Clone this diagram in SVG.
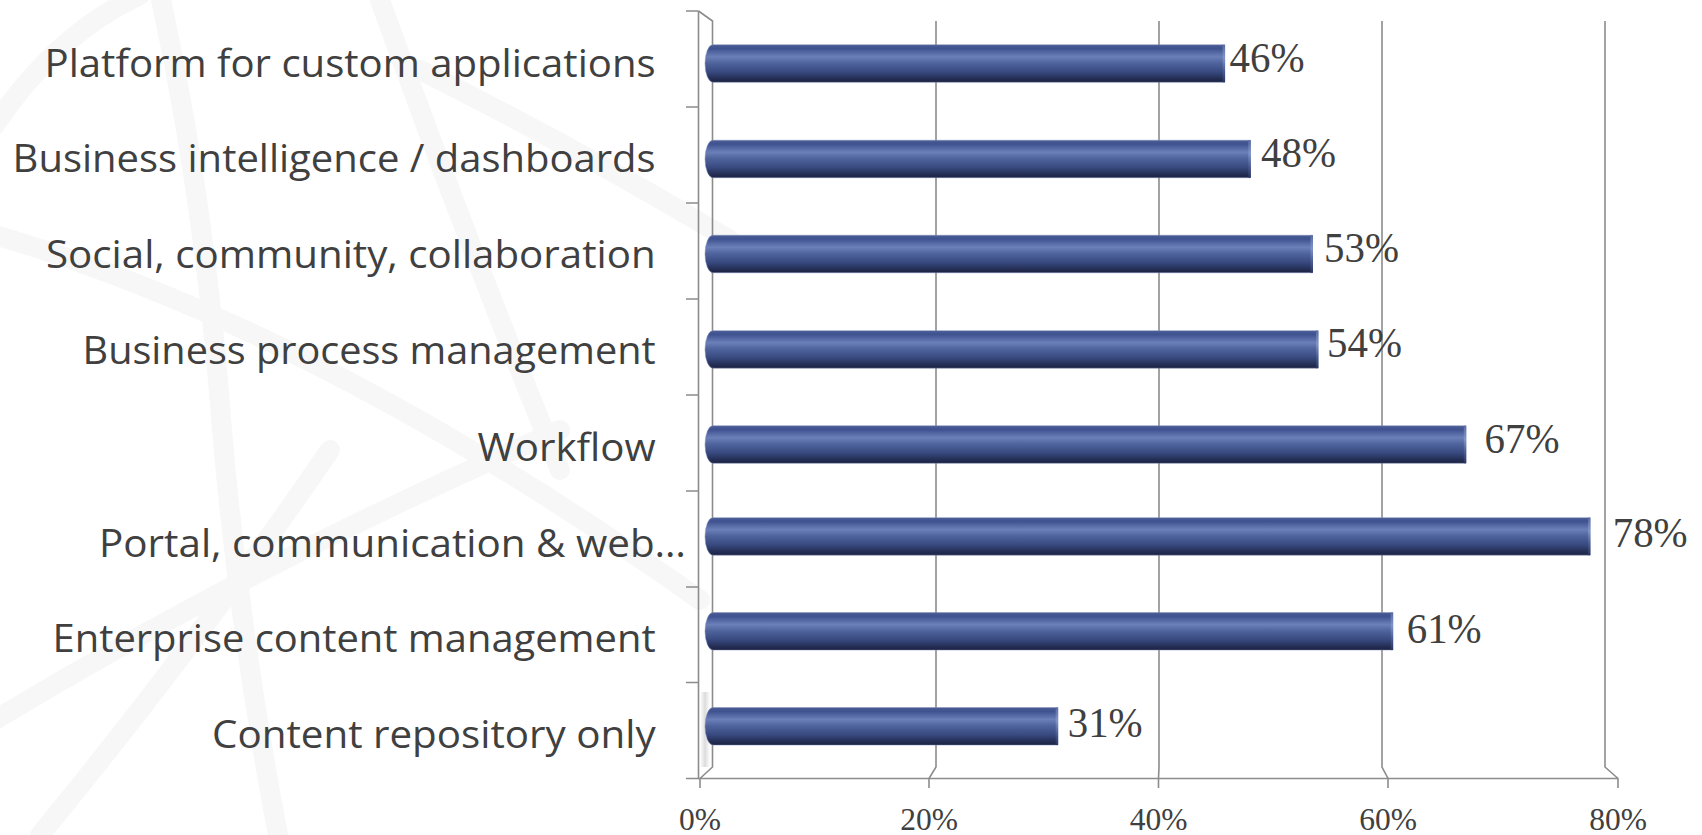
<svg xmlns="http://www.w3.org/2000/svg" width="1702" height="835" viewBox="0 0 1702 835">
<defs>
<style>
.cat{font-family:"Open Sans","Noto Sans","Liberation Sans",sans-serif;font-size:38px;fill:#404040;text-anchor:end}
.val{font-family:"Liberation Serif","DejaVu Serif",serif;font-size:42px;fill:#404040}
.ax{font-family:"Liberation Serif","DejaVu Serif",serif;font-size:31.5px;fill:#404040;text-anchor:middle}
.grid{stroke:#8c8c8c;stroke-width:1.6;fill:none}
.wm{stroke:#f7f7f7;stroke-width:20;fill:none;stroke-linecap:round}
.bar{fill:url(#barGrad);stroke:#8190bd;stroke-width:0.8;stroke-opacity:0.6}
.cap{fill:url(#capGrad)}
</style>
<linearGradient id="barGrad" x1="0" y1="0" x2="0" y2="1">
<stop offset="0" stop-color="#4b5d95"/>
<stop offset="0.1" stop-color="#3f5290"/>
<stop offset="0.32" stop-color="#6b80b9"/>
<stop offset="0.48" stop-color="#50649e"/>
<stop offset="0.72" stop-color="#384a80"/>
<stop offset="0.9" stop-color="#252f56"/>
<stop offset="1" stop-color="#1b2141"/>
</linearGradient>
<linearGradient id="capGrad" x1="0" y1="0" x2="0" y2="1">
<stop offset="0" stop-color="#5a6ca3"/>
<stop offset="0.35" stop-color="#8094c8"/>
<stop offset="0.7" stop-color="#4a5c92"/>
<stop offset="1" stop-color="#2a3460"/>
</linearGradient>
<linearGradient id="shadowGrad" x1="0" y1="0" x2="1" y2="0">
<stop offset="0" stop-color="#9a9a9a" stop-opacity="0"/>
<stop offset="0.5" stop-color="#9a9a9a" stop-opacity="0.35"/>
<stop offset="1" stop-color="#9a9a9a" stop-opacity="0"/>
</linearGradient>
</defs>
<rect x="0" y="0" width="1702" height="835" fill="#ffffff"/>

<g id="watermark">
<path class="wm" d="M 160,-5 Q 205,200 222,430 Q 240,640 280,845"/>
<path class="wm" d="M -5,125 Q 55,35 140,-5"/>
<path class="wm" d="M 420,70 Q 580,150 730,240"/>
<path class="wm" d="M -5,235 Q 320,330 700,600"/>
<path class="wm" d="M -5,720 Q 260,560 560,430"/>
<path class="wm" d="M 330,450 Q 200,640 40,835"/>
<path class="wm" d="M 380,0 Q 470,250 560,470"/>
</g>

<g id="axes">
<path class="grid" d="M 698.5,11 V 778.5 H 1618"/>
<path class="grid" d="M 698.5,11 L 712.5,21 V 767 L 700,778.5"/>
<path class="grid" d="M 936,21 V 767 L 929,778.5 V 788"/>
<path class="grid" d="M 1159,21 V 767 L 1158.5,778.5 V 788"/>
<path class="grid" d="M 1382,21 V 767 L 1388,778.5 V 788"/>
<path class="grid" d="M 1605,21 V 767 L 1618,778.5 V 788"/>
<path class="grid" d="M 700,778.5 V 788"/>
<path class="grid" d="M 686,11 H 698.5 M 686,107 H 698.5 M 686,203 H 698.5 M 686,299 H 698.5 M 686,395 H 698.5 M 686,491 H 698.5 M 686,587 H 698.5 M 686,682.5 H 698.5 M 686,778.5 H 698.5"/>
<rect x="700" y="692" width="10" height="75" fill="url(#shadowGrad)"/>
</g>

<g id="bar1"><path class="bar" d="M 713,44.75 H 1224.6 V 82.25 H 713 A 8,18.75 0 0 1 713,44.75 Z"/><rect class="cap" x="1222.6" y="44.75" width="2.5" height="37.5"/><text class="cat" x="655.6" y="76.7" textLength="611" lengthAdjust="spacingAndGlyphs">Platform for custom applications</text><text class="val" x="1229.6" y="72" textLength="75" lengthAdjust="spacingAndGlyphs">46%</text></g>
<g id="bar2"><path class="bar" d="M 713,140.25 H 1250.4 V 177.75 H 713 A 8,18.75 0 0 1 713,140.25 Z"/><rect class="cap" x="1248.4" y="140.25" width="2.5" height="37.5"/><text class="cat" x="655.6" y="172" textLength="643" lengthAdjust="spacingAndGlyphs">Business intelligence / dashboards</text><text class="val" x="1261" y="167" textLength="75" lengthAdjust="spacingAndGlyphs">48%</text></g>
<g id="bar3"><path class="bar" d="M 713,235.25 H 1312.5 V 272.75 H 713 A 8,18.75 0 0 1 713,235.25 Z"/><rect class="cap" x="1310.5" y="235.25" width="2.5" height="37.5"/><text class="cat" x="655.6" y="268" textLength="609.6" lengthAdjust="spacingAndGlyphs">Social, community, collaboration</text><text class="val" x="1324" y="262.3" textLength="75" lengthAdjust="spacingAndGlyphs">53%</text></g>
<g id="bar4"><path class="bar" d="M 713,330.65 H 1318 V 368.15 H 713 A 8,18.75 0 0 1 713,330.65 Z"/><rect class="cap" x="1316" y="330.65" width="2.5" height="37.5"/><text class="cat" x="655.6" y="363.5" textLength="573" lengthAdjust="spacingAndGlyphs">Business process management</text><text class="val" x="1327" y="357.2" textLength="75" lengthAdjust="spacingAndGlyphs">54%</text></g>
<g id="bar5"><path class="bar" d="M 713,425.75 H 1465.8 V 463.25 H 713 A 8,18.75 0 0 1 713,425.75 Z"/><rect class="cap" x="1463.8" y="425.75" width="2.5" height="37.5"/><text class="cat" x="655.6" y="460.7" textLength="178" lengthAdjust="spacingAndGlyphs">Workflow</text><text class="val" x="1484.6" y="453" textLength="75" lengthAdjust="spacingAndGlyphs">67%</text></g>
<g id="bar6"><path class="bar" d="M 713,517.65 H 1590 V 555.15 H 713 A 8,18.75 0 0 1 713,517.65 Z"/><rect class="cap" x="1588" y="517.65" width="2.5" height="37.5"/><text class="cat" x="686" y="556.7" textLength="587" lengthAdjust="spacingAndGlyphs">Portal, communication &amp; web…</text><text class="val" x="1612.7" y="547" textLength="75" lengthAdjust="spacingAndGlyphs">78%</text></g>
<g id="bar7"><path class="bar" d="M 713,612.55 H 1392.7 V 650.05 H 713 A 8,18.75 0 0 1 713,612.55 Z"/><rect class="cap" x="1390.7" y="612.55" width="2.5" height="37.5"/><text class="cat" x="655.6" y="652" textLength="603" lengthAdjust="spacingAndGlyphs">Enterprise content management</text><text class="val" x="1406.7" y="642.7" textLength="75" lengthAdjust="spacingAndGlyphs">61%</text></g>
<g id="bar8"><path class="bar" d="M 713,707.55 H 1057.7 V 745.05 H 713 A 8,18.75 0 0 1 713,707.55 Z"/><rect class="cap" x="1055.7" y="707.55" width="2.5" height="37.5"/><text class="cat" x="655.6" y="748" textLength="443.6" lengthAdjust="spacingAndGlyphs">Content repository only</text><text class="val" x="1067.7" y="736.7" textLength="75" lengthAdjust="spacingAndGlyphs">31%</text></g>

<g id="xlabels">
<text class="ax" x="700" y="830">0%</text>
<text class="ax" x="929" y="830">20%</text>
<text class="ax" x="1158.5" y="830">40%</text>
<text class="ax" x="1388" y="830">60%</text>
<text class="ax" x="1618" y="830">80%</text>
</g>
</svg>
